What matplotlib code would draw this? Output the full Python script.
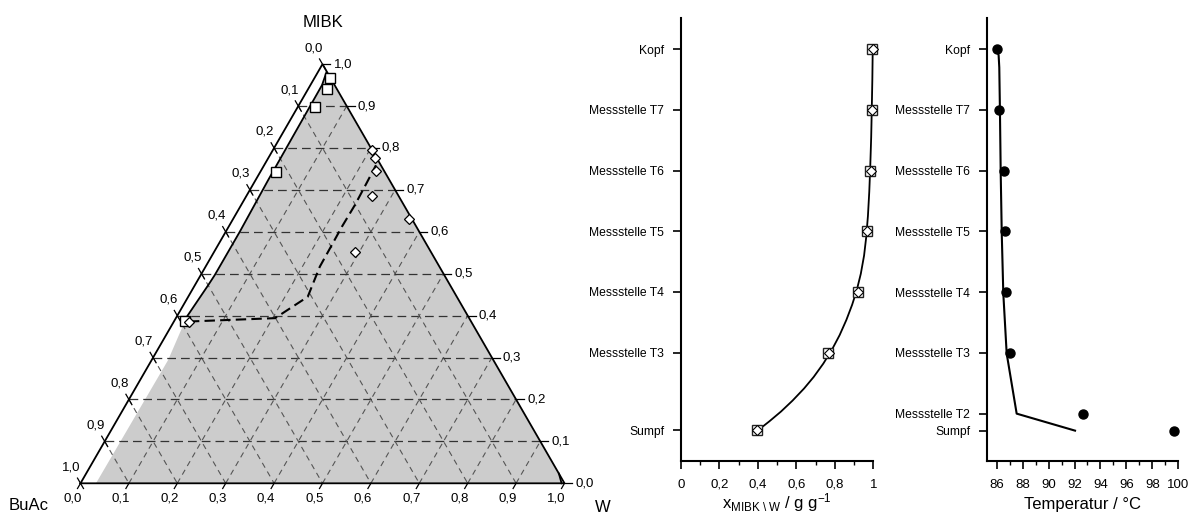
import numpy as np
import matplotlib
matplotlib.use('Agg')
import matplotlib.pyplot as plt

plt.rcParams['font.family'] = ['Liberation Sans', 'DejaVu Sans']
plt.rcParams['mathtext.fontset'] = 'custom'
plt.rcParams['mathtext.rm'] = 'Liberation Sans'
plt.rcParams['mathtext.it'] = 'Liberation Sans'

# ternary data, given as (W, MIBK) mass fractions; BuAc = 1 - W - MIBK
sq_W = [0.032, 0.039, 0.035, 0.032, 0.022]
sq_M = [0.966, 0.940, 0.897, 0.742, 0.388]
dia_W = [0.204, 0.221, 0.237, 0.259, 0.364, 0.291, 0.031]
dia_M = [0.795, 0.775, 0.746, 0.686, 0.630, 0.553, 0.386]
prof_W = [0.031, 0.205, 0.247, 0.236, 0.235, 0.234, 0.235, 0.233, 0.231]
prof_M = [0.386, 0.394, 0.445, 0.517, 0.570, 0.612, 0.664, 0.716, 0.759]
binL_W = [0.018, 0.024, 0.026, 0.029, 0.029, 0.0275, 0.021]
binL_M = [0.980, 0.950, 0.724, 0.600, 0.497, 0.473, 0.3975]
grayL_W = [0.034, 0.032]
grayL_M = [0.294, 0.0]
binR_W = [0.994, 0.977]
binR_M = [0.0, 0.023]
ticks3 = [0.0, 0.1, 0.2, 0.3, 0.4, 0.5, 0.6, 0.7, 0.8, 0.9, 1.0]
tick_lbl3 = ['0,0', '0,1', '0,2', '0,3', '0,4', '0,5', '0,6', '0,7', '0,8', '0,9', '1,0']

# column profiles
stages_mid = ['Kopf', 'Messstelle T7', 'Messstelle T6', 'Messstelle T5',
              'Messstelle T4', 'Messstelle T3', 'Sumpf']
pos_mid = [8, 7, 6, 5, 4, 3, 1.72]
x_sq = [0.995, 0.992, 0.985, 0.966, 0.922, 0.763, 0.393]
x_dia = [0.997, 0.993, 0.987, 0.968, 0.918, 0.771, 0.395]
sim_x = [0.40, 0.46, 0.52, 0.58, 0.64, 0.69, 0.74, 0.785, 0.825, 0.86, 0.89,
         0.914, 0.935, 0.952, 0.963, 0.972, 0.979, 0.984, 0.989, 0.992, 0.995, 0.997]
sim_y = [1.72, 1.87, 2.03, 2.21, 2.41, 2.60, 2.82, 3.05, 3.29, 3.54, 3.79,
         4.03, 4.3, 4.6, 4.9, 5.25, 5.65, 6.05, 6.55, 7.0, 7.5, 8.0]

stages_T = ['Kopf', 'Messstelle T7', 'Messstelle T6', 'Messstelle T5',
            'Messstelle T4', 'Messstelle T3', 'Messstelle T2', 'Sumpf']
pos_T = [8, 7, 6, 5, 4, 3, 2, 1.72]
T_meas = [86.0, 86.18, 86.59, 86.62, 86.7, 87.03, 92.64, 99.67]
T_sim = [86.0, 86.15, 86.2, 86.25, 86.31, 86.39, 86.51, 86.77, 87.54, 92.04]
T_sim_y = [8.0, 7.9, 7.7, 7.0, 5.96, 4.97, 3.98, 2.99, 2.0, 1.72]

h = np.sqrt(3) / 2


def tern(W, M):
    W = np.asarray(W, float)
    M = np.asarray(M, float)
    return W + M / 2, M * h


fig = plt.figure(figsize=(11.92, 5.13), dpi=100)

# ---- triangle ----
S = 484.0
ax = fig.add_axes([0, 0, 640 / 1192, 1])
ax.set_xlim(-80.5 / S, (640 - 80.5) / S)
ax.set_ylim((483.3 - 513) / S, 483.3 / S)
ax.axis('off')

# gray area
pW = binL_W + grayL_W + binR_W
pM = binL_M + grayL_M + binR_M
px, py = tern(pW, pM)
ax.fill(px, py, color='#cccccc', lw=0, zorder=1)

# grid
for v in ticks3[1:-1]:
    x, y = tern([0, 1 - v], [v, v])
    ax.plot(x, y, color='#333333', lw=0.9, dashes=(7, 4), zorder=2)
    x, y = tern([v, v], [0, 1 - v])
    ax.plot(x, y, color='#555555', lw=0.8, dashes=(5, 4), zorder=2)
    x, y = tern([0, 1 - v], [1 - v, 0])
    ax.plot(x, y, color='#555555', lw=0.8, dashes=(5, 4), zorder=2)

# outline
x, y = tern([0, 1, 0, 0], [0, 0, 1, 0])
ax.plot(x, y, color='black', lw=1.3, zorder=4, solid_joinstyle='miter')

# ticks and labels
d = 6 / S
for v, lab in zip(ticks3, tick_lbl3):
    # left side: BuAc
    x0, y0 = tern(0, 1 - v)
    ax.plot([x0 + 0.5 * d, x0 - 0.5 * d], [y0 - h * d, y0 + h * d], color='black', lw=0.9, zorder=4)
    ax.text(x0 - 9 / S, y0 + 16 / S, lab, fontsize=9.5, ha='center', va='center')
    # right side: MIBK
    x0, y0 = tern(1 - v, v)
    ax.plot([x0, x0 + 1.3 * d], [y0, y0], color='black', lw=0.9, zorder=4)
    ax.text(x0 + 11 / S, y0, lab, fontsize=9.5, ha='left', va='center')
    # bottom: W
    x0, y0 = tern(v, 0)
    ax.plot([x0, x0 - 0.5 * d], [y0, y0 - h * d], color='black', lw=0.9, zorder=4)
    ax.text(x0 - 8 / S, y0 - 15 / S, lab, fontsize=9.5, ha='center', va='center')

ax.text(0.5, 461 / S, 'MIBK', fontsize=12, ha='center', va='center')
ax.text(-52 / S, -22 / S, 'BuAc', fontsize=12, ha='center', va='center')
ax.text(522 / S, -24 / S, 'W', fontsize=12, ha='center', va='center')

# binodal lines
x, y = tern(binL_W, binL_M)
ax.plot(x, y, color='black', lw=1.3, zorder=5)
x, y = tern(binR_W, binR_M)
ax.plot(x, y, color='black', lw=1.3, zorder=5)

# column profile
x, y = tern(prof_W, prof_M)
ax.plot(x, y, color='black', lw=1.5, dashes=(5, 2.5), zorder=5)

x, y = tern(sq_W, sq_M)
ax.plot(x, y, 's', ms=7.5, mfc='white', mec='black', mew=1.0, zorder=6)
x, y = tern(dia_W, dia_M)
ax.plot(x, y, 'D', ms=5.5, mfc='white', mec='black', mew=0.9, zorder=7)


def style_axes(a):
    for s in ['top', 'right']:
        a.spines[s].set_visible(False)
    for s in ['left', 'bottom']:
        a.spines[s].set_linewidth(1.5)
    a.tick_params(axis='both', which='major', direction='out', length=6,
                  width=1.2, labelsize=9.5, pad=7)
    a.tick_params(axis='y', labelsize=8.7, pad=6)
    a.tick_params(axis='x', which='minor', direction='out', length=3, width=1.0)
    a.patch.set_alpha(0)


# ---- MIBK profile ----
ax2 = fig.add_axes([681 / 1192, 52.3 / 513, 192.3 / 1192, 442.4 / 513])
ax2.plot(sim_x, sim_y, color='black', lw=1.3, zorder=2, clip_on=False)
ax2.plot(x_sq, pos_mid, 's', ms=7, mfc='white', mec='#222222', mew=1.0, zorder=3, clip_on=False)
ax2.plot(x_dia, pos_mid, 'D', ms=5, mfc='white', mec='black', mew=0.8, zorder=4, clip_on=False)
ax2.set_xlim(0, 1)
ax2.set_ylim(1.22, 8.51)
ax2.set_xticks([0, 0.2, 0.4, 0.6, 0.8, 1.0])
ax2.set_xticklabels(['0', '0,2', '0,4', '0,6', '0,8', '1'])
ax2.set_xticks(np.arange(0.1, 1.0, 0.2), minor=True)
ax2.set_yticks(pos_mid)
ax2.set_yticklabels(stages_mid)
ax2.set_xlabel(r'x$_{\mathrm{MIBK\ \backslash\ W}}$ / g g$^{-1}$', fontsize=12, labelpad=0)
style_axes(ax2)

# ---- temperature profile ----
ax3 = fig.add_axes([986.7 / 1192, 52 / 513, 191.6 / 1192, 442.7 / 513])
ax3.plot(T_sim, T_sim_y, color='black', lw=1.5, zorder=2)
ax3.plot(T_meas, pos_T, 'o', ms=6.5, color='black', zorder=3, clip_on=False)
ax3.set_xlim(85.23, 100)
ax3.set_ylim(1.22, 8.51)
ax3.set_xticks(np.arange(86, 101, 2))
ax3.set_xticks(np.arange(87, 100, 2), minor=True)
ax3.set_yticks(pos_T)
ax3.set_yticklabels(stages_T)
ax3.set_xlabel('Temperatur / °C', fontsize=12, labelpad=4)
style_axes(ax3)

fig.savefig('out.png', dpi=100)
